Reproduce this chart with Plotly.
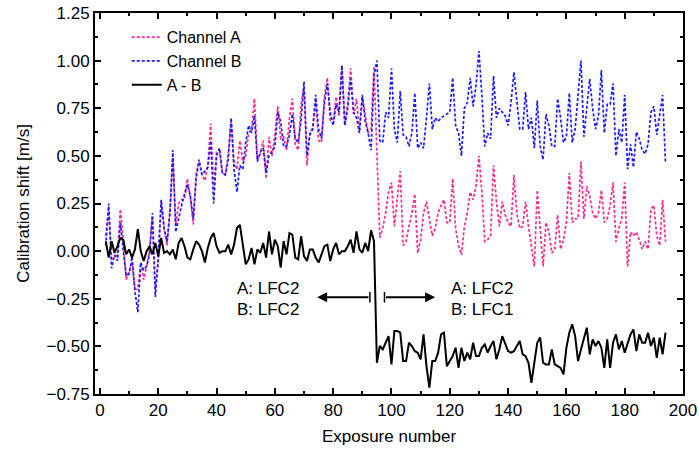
import plotly.graph_objects as go

exposure = list(range(2, 195))

channel_a = [
    0.08, 0.22, -0.04, -0.03, -0.02, 0.22, 0.06, -0.15, -0.11, -0.06,
    -0.20, -0.20, -0.06, -0.15, -0.08, 0.01, 0.18, -0.20, -0.06, 0.26,
    0.12, 0.03, 0.21, 0.49, 0.14, 0.25, 0.27, 0.27, 0.38, 0.28,
    0.14, 0.41, 0.47, 0.40, 0.37, 0.45, 0.67, 0.33, 0.52, 0.53,
    0.41, 0.40, 0.51, 0.68, 0.46, 0.43, 0.58, 0.47, 0.50, 0.62,
    0.64, 0.80, 0.48, 0.51, 0.58, 0.38, 0.60, 0.50, 0.61, 0.76,
    0.59, 0.60, 0.53, 0.70, 0.80, 0.56, 0.53, 0.77, 0.86, 0.45,
    0.62, 0.65, 0.79, 0.58, 0.57, 0.81, 0.91, 0.68, 0.67, 0.81,
    0.71, 0.975, 0.66, 0.78, 0.96, 0.72, 0.80, 0.63, 0.81, 0.72,
    0.62, 0.64, 0.97,
    0.52, 0.07, 0.12, 0.20, 0.31, 0.36, 0.13, 0.29, 0.42, 0.03,
    0.05, 0.13, 0.20, 0.30, -0.01, 0.06, 0.20, 0.26, 0.17, 0.08,
    0.12, 0.20, 0.24, 0.27, 0.15, 0.15, 0.38, 0.12, 0.03, -0.02,
    0.13, 0.20, 0.31, 0.27, 0.34, 0.50, 0.31, 0.05, 0.06, 0.08,
    0.45, 0.26, 0.13, 0.26, 0.19, 0.15, 0.13, 0.40, 0.20, 0.12,
    0.13, 0.26, 0.13, 0.01, -0.08, 0.32, 0.13, -0.08, 0.15, 0.10,
    -0.01, 0.01, 0.19, 0.01, 0.06, 0.15, 0.41, 0.15, 0.17, 0.17,
    0.47, 0.17, 0.34, 0.29, 0.20, 0.17, 0.20, 0.32, 0.15, 0.17,
    0.24, 0.36, 0.05, 0.12, 0.17, 0.36, -0.08, 0.10, 0.08, 0.10,
    0.06, 0.01, 0.05, 0.01, 0.22, 0.24, 0.08, 0.03, 0.27, 0.05,
]

channel_b = [
    0.03, 0.25, -0.09, -0.02, -0.05, 0.15, 0.00, -0.13, -0.12, -0.03,
    -0.21, -0.32, -0.06, -0.10, -0.08, -0.02, 0.20, -0.24, -0.03, 0.27,
    0.12, 0.05, 0.20, 0.53, 0.10, 0.18, 0.24, 0.30, 0.35, 0.29,
    0.17, 0.38, 0.48, 0.40, 0.42, 0.44, 0.58, 0.25, 0.50, 0.54,
    0.41, 0.40, 0.48, 0.70, 0.43, 0.31, 0.45, 0.43, 0.57, 0.66,
    0.62, 0.71, 0.47, 0.52, 0.54, 0.41, 0.50, 0.52, 0.55, 0.73,
    0.68, 0.55, 0.55, 0.61, 0.72, 0.59, 0.57, 0.69, 0.89, 0.50,
    0.61, 0.64, 0.82, 0.64, 0.59, 0.78, 0.88, 0.73, 0.66, 0.77,
    0.73, 0.975, 0.66, 0.75, 0.905, 0.73, 0.70, 0.62, 0.82, 0.68,
    0.62, 0.53, 0.92,
    1.00, 0.58, 0.57, 0.73, 0.70, 0.96, 0.64, 0.57, 0.84, 0.61,
    0.60, 0.55, 0.62, 0.83, 0.54, 0.57, 0.54, 0.70, 0.88, 0.64,
    0.70, 0.68, 0.70, 0.71, 0.72, 0.73, 0.91, 0.66, 0.62, 0.50,
    0.75, 0.78, 0.91, 0.76, 0.87, 1.05, 0.82, 0.55, 0.62, 0.59,
    0.92, 0.70, 0.75, 0.73, 0.71, 0.66, 0.78, 0.94, 0.80, 0.64,
    0.64, 0.835, 0.64, 0.70, 0.54, 0.79, 0.55, 0.48, 0.72, 0.66,
    0.55, 0.55, 0.80, 0.70, 0.57, 0.60, 0.83, 0.57, 0.64, 0.80,
    1.00, 0.60, 0.765, 0.905, 0.75, 0.64, 0.71, 0.95, 0.62, 0.77,
    0.77, 0.88, 0.50, 0.64, 0.57, 0.82, 0.43, 0.56, 0.44, 0.625,
    0.59, 0.53, 0.51, 0.56, 0.73, 0.76, 0.61, 0.73, 0.82, 0.46,
]

a_minus_b = [
    0.052, -0.034, 0.052, -0.009, 0.026, 0.069, 0.060, -0.017, 0.009, -0.034,
    0.009, 0.116, 0.000, -0.052, 0.000, 0.026, -0.017, 0.043, -0.026, 0.069,
    -0.009, 0.000, -0.017, 0.009, -0.043, 0.043, 0.069, 0.026, -0.034, -0.043,
    0.009, 0.052, 0.034, 0.000, -0.060, 0.017, 0.069, 0.095, 0.026, -0.009,
    0.000, 0.000, 0.034, -0.017, 0.034, 0.121, 0.138, 0.043, -0.069, -0.043,
    0.017, -0.069, 0.009, -0.009, 0.043, -0.034, 0.103, -0.017, 0.060, 0.026,
    -0.086, 0.052, -0.017, 0.095, 0.086, -0.034, -0.043, 0.078, -0.026, -0.052,
    0.009, 0.009, -0.034, -0.060, -0.017, 0.026, 0.034, -0.052, 0.009, 0.043,
    -0.017, 0.000, 0.000, 0.026, 0.060, -0.009, 0.103, 0.009, -0.009, 0.043,
    0.000, 0.109, 0.052,
    -0.586, -0.498, -0.516, -0.481, -0.446, -0.595, -0.419, -0.419, -0.428, -0.577,
    -0.577, -0.481, -0.498, -0.525, -0.533, -0.568, -0.437, -0.604, -0.717, -0.577,
    -0.577, -0.533, -0.437, -0.428, -0.604, -0.577, -0.551, -0.507, -0.613, -0.507,
    -0.577, -0.533, -0.568, -0.481, -0.551, -0.551, -0.507, -0.490, -0.533, -0.498,
    -0.472, -0.568, -0.516, -0.446, -0.481, -0.525, -0.533, -0.525, -0.498, -0.472,
    -0.542, -0.551, -0.586, -0.691, -0.586, -0.481, -0.454, -0.586, -0.595, -0.595,
    -0.516, -0.595, -0.604, -0.613, -0.647, -0.507, -0.428, -0.384, -0.446, -0.577,
    -0.516, -0.463, -0.402, -0.542, -0.463, -0.498, -0.472, -0.507, -0.613, -0.463,
    -0.613, -0.481, -0.437, -0.516, -0.472, -0.533, -0.481, -0.437, -0.411, -0.525,
    -0.437, -0.481, -0.481, -0.428, -0.498, -0.454, -0.560, -0.454, -0.542, -0.428,
]

FONT = "Liberation Sans, Arial, sans-serif"
FS = 17

fig = go.Figure()
fig.add_trace(go.Scatter(x=exposure, y=channel_a, mode="lines", name="Channel A",
                         line=dict(color="#ff2a8c", width=1.7, dash="3px,2px")))
fig.add_trace(go.Scatter(x=exposure, y=channel_b, mode="lines", name="Channel B",
                         line=dict(color="#1a1aff", width=1.7, dash="3px,2px")))
fig.add_trace(go.Scatter(x=exposure, y=a_minus_b, mode="lines", name="A - B",
                         line=dict(color="black", width=2)))

axis_common = dict(
    showline=True, linecolor="black", linewidth=2, mirror="ticks",
    ticks="inside", ticklen=6, tickwidth=2, tickcolor="black",
    showgrid=False, zeroline=False, automargin=False,
    tickfont=dict(family=FONT, size=FS, color="black"),
)

fig.update_xaxes(range=[-1.7, 200], tick0=0, dtick=20,
                 minor=dict(ticks="inside", ticklen=3, tickwidth=2, dtick=10, tickcolor="black"),
                 title=dict(text="Exposure number", font=dict(family=FONT, size=FS, color="black"),
                            standoff=11),
                 **axis_common)
fig.update_yaxes(range=[-0.75, 1.25], tick0=-0.75, dtick=0.25, tickformat=".2f",
                 minor=dict(ticks="inside", ticklen=3, tickwidth=2, dtick=0.125, tickcolor="black"),
                 title=dict(text="Calibration shift [m/s]", font=dict(family=FONT, size=FS, color="black"),
                            standoff=13),
                 **axis_common)

ann_font = dict(family=FONT, size=FS, color="black")
annotations = [
    dict(x=57.5, y=-0.195, text="A: LFC2", showarrow=False, font=ann_font),
    dict(x=57.5, y=-0.307, text="B: LFC2", showarrow=False, font=ann_font),
    dict(x=131, y=-0.195, text="A: LFC2", showarrow=False, font=ann_font),
    dict(x=131, y=-0.307, text="B: LFC1", showarrow=False, font=ann_font),
    dict(x=74.5, y=-0.242, ax=92.6, ay=-0.242, axref="x", ayref="y", xref="x", yref="y",
         text="", showarrow=True, arrowhead=2, arrowsize=1, arrowwidth=2, arrowcolor="black"),
    dict(x=115.0, y=-0.242, ax=97.6, ay=-0.242, axref="x", ayref="y", xref="x", yref="y",
         text="", showarrow=True, arrowhead=2, arrowsize=1, arrowwidth=2, arrowcolor="black"),
]
shapes = [
    dict(type="line", xref="x", yref="y", x0=92.6, x1=92.6, y0=-0.27, y1=-0.214,
         line=dict(color="black", width=1.5)),
    dict(type="line", xref="x", yref="y", x0=97.6, x1=97.6, y0=-0.27, y1=-0.214,
         line=dict(color="black", width=1.5)),
]

fig.update_layout(
    width=699, height=450,
    margin=dict(l=95, r=16, t=13, b=56),
    paper_bgcolor="white", plot_bgcolor="white",
    font=dict(family=FONT, size=FS, color="black"),
    showlegend=True,
    legend=dict(x=0.054, y=0.981, xanchor="left", yanchor="top",
                bgcolor="rgba(0,0,0,0)", borderwidth=0,
                font=dict(family=FONT, size=16, color="black"),
                tracegroupgap=0, itemwidth=30),
    annotations=annotations,
    shapes=shapes,
)

fig.write_html("out.html", config={"displayModeBar": False},
               post_script="document.body.style.margin='0';document.body.style.padding='0';")
